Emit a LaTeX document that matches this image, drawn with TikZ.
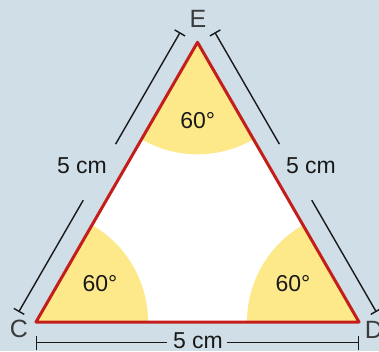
\documentclass[tikz,border=0pt]{standalone}
\usepackage{fontspec}
\setmainfont{Liberation Sans}
\usetikzlibrary{arrows.meta,calc}
\definecolor{bgc}{RGB}{208,222,232}
\definecolor{secc}{RGB}{253,233,138}
\definecolor{redc}{RGB}{196,30,26}
\definecolor{dimc}{RGB}{25,25,25}
\begin{document}
\begin{tikzpicture}[x=1pt,y=1pt,
  dimline/.style={draw=dimc,line width=1.4pt},
  lbl/.style={font=\fontsize{23}{27}\selectfont,text=dimc,inner sep=0pt},
  vlbl/.style={font=\fontsize{25}{30}\selectfont,text=dimc!85,inner sep=0pt},
  sector/.style={fill=secc,draw=none}]
\fill[bgc] (0,0) rectangle (379,351);
\useasboundingbox (0,0) rectangle (379,351);
\coordinate (C) at (36,29);
\coordinate (D) at (359,29);
\coordinate (E) at (197.5,308.7);
% triangle interior
\fill[white] (C) -- (D) -- (E) -- cycle;
\fill[sector] (C) -- ++(0:112) arc[start angle=0,end angle=60,radius=112] -- cycle;
\fill[sector] (D) -- ++(120:112) arc[start angle=120,end angle=180,radius=112] -- cycle;
\fill[sector] (E) -- ++(240:112) arc[start angle=240,end angle=300,radius=112] -- cycle;
\draw[redc,line width=3pt,line join=round] (C) -- (D) -- (E) -- cycle;
% dimension lines
\coordinate (Cl) at ($(C)+(150:20)$);
\coordinate (El) at ($(E)+(150:20)$);
\coordinate (Dr) at ($(D)+(30:20)$);
\coordinate (Er) at ($(E)+(30:20)$);
\coordinate (Cb) at (36,8.5);
\coordinate (Db) at (359,8.5);
\draw[dimline,{Bar[width=12pt]}-] (Cl) -- ($(Cl)!0.40!(El)$);
\draw[dimline,-{Bar[width=12pt]}] ($(Cl)!0.60!(El)$) -- (El);
\draw[dimline,{Bar[width=12pt]}-] (Dr) -- ($(Dr)!0.40!(Er)$);
\draw[dimline,-{Bar[width=12pt]}] ($(Dr)!0.60!(Er)$) -- (Er);
\draw[dimline,{Bar[width=14pt]}-] (Cb) -- (167,8.5);
\draw[dimline,-{Bar[width=14pt]}] (227,8.5) -- (Db);
% labels
\node[lbl] (l1) at (82,185) {5 cm};
\node[lbl] (l2) at (311,185) {5 cm};
\node[lbl] (l3) at (198,10) {5 cm};
\node[lbl] (a1) at (197.7,230) {60°};
\node[lbl] (a2) at (100,67) {60°};
\node[lbl] (a3) at (293,67) {60°};
\node[vlbl] (nE) at (198,332) {E};
\node[vlbl] (nC) at (19,22) {C};
\node[vlbl] (nD) at (374,21) {D};
\end{tikzpicture}
\end{document}
